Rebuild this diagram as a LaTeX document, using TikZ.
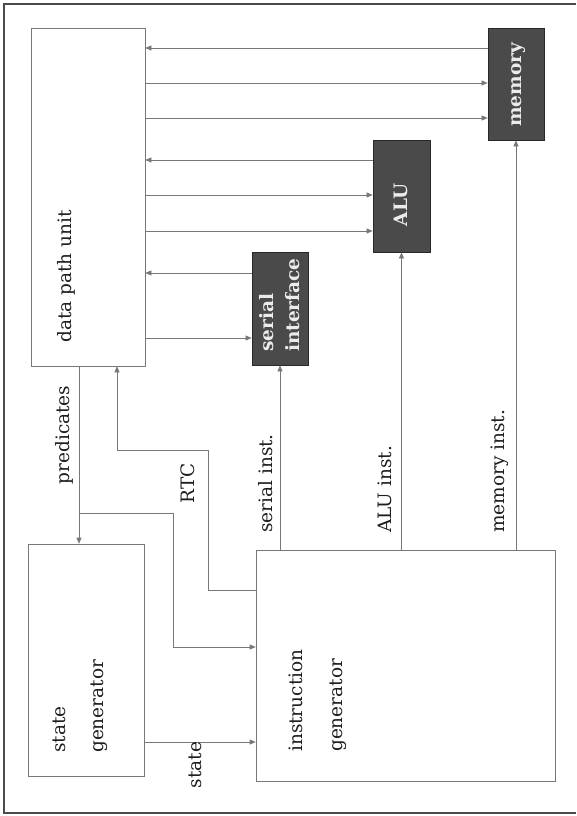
\documentclass[tikz,border=0pt]{standalone}
\usepackage{fontspec}
\setmainfont{DejaVu Serif}
\usetikzlibrary{arrows.meta}
\definecolor{ink}{RGB}{30,30,30}
\definecolor{wire}{RGB}{120,120,120}
\definecolor{darkfill}{RGB}{74,74,74}
\definecolor{darkedge}{RGB}{40,40,40}
\tikzset{
  wbox/.style={draw=wire, line width=0.6pt, fill=white, inner sep=0pt},
  dbox/.style={draw=darkedge, line width=0.8pt, fill=darkfill, inner sep=0pt},
  arr/.style={draw=wire, line width=0.6pt, -{Triangle[length=6pt,width=5pt]}},
  wire/.style={draw=wire, line width=0.6pt},
  txt/.style={text=ink, inner sep=0pt, rotate=90, font=\fontsize{18.5}{22}\selectfont},
  btxt/.style={text=white!92!black, inner sep=0pt, rotate=90, font=\fontsize{18.5}{22}\selectfont\bfseries}
}
\begin{document}
\begin{tikzpicture}[x=1pt,y=-1pt]
\useasboundingbox (0,0) rectangle (576,816);
\fill[white] (0,0) rectangle (576,816);
% frame
\draw[line width=1.3pt, draw=ink!80] (576,4) -- (4,4) -- (4,813) -- (576,813);

% boxes
\node[wbox, minimum width=114pt, minimum height=338pt] (dp) at (88,197) {};
\node[dbox, minimum width=56pt, minimum height=112pt] (mem) at (516,84) {};
\node[dbox, minimum width=57pt, minimum height=112pt] (alu) at (401.5,196) {};
\node[dbox, minimum width=56pt, minimum height=113pt] (ser) at (280,308.5) {};
\node[wbox, minimum width=116pt, minimum height=232pt] (sg) at (86,660) {};
\node[wbox, minimum width=299pt, minimum height=231pt] (ig) at (405.5,665.5) {};

% box texts
\node[txt, anchor=west] (dpt) at (66,343) {data path unit};
\node[btxt] (memt) at (519,85) {memory};
\node[btxt] (alut) at (401,205) {ALU};
\node[btxt, anchor=west, align=left, font=\fontsize{18.5}{26}\selectfont\bfseries] (sert) at (280,352) {serial\\interface};
\node[txt, anchor=west, align=left, font=\fontsize{18.5}{38}\selectfont] (sgt) at (80,753) {state\\generator};
\node[txt, anchor=west, align=left, font=\fontsize{18.5}{40}\selectfont] (igt) at (318,752) {instruction\\generator};

% helper coordinates
\coordinate (h1) at (0,48);
\coordinate (h2) at (0,83);
\coordinate (h3) at (0,118);
\coordinate (h4) at (0,160);
\coordinate (h5) at (0,195);
\coordinate (h6) at (0,231);
\coordinate (h7) at (0,273);
\coordinate (h8) at (0,338);
\coordinate (px) at (79,0);
\coordinate (pb) at (79,513);
\coordinate (c1) at (173,647);
\coordinate (r1) at (208,590);
\coordinate (r2) at (117,450);
\coordinate (s1) at (0,742);

% data path <-> units
\draw[arr] (mem.west |- h1) -- (dp.east |- h1);
\draw[arr] (dp.east |- h2) -- (mem.west |- h2);
\draw[arr] (dp.east |- h3) -- (mem.west |- h3);
\draw[arr] (alu.west |- h4) -- (dp.east |- h4);
\draw[arr] (dp.east |- h5) -- (alu.west |- h5);
\draw[arr] (dp.east |- h6) -- (alu.west |- h6);
\draw[arr] (ser.west |- h7) -- (dp.east |- h7);
\draw[arr] (dp.east |- h8) -- (ser.west |- h8);

% instruction lines
\draw[arr] (ig.north -| ser.south) -- (ser.south);
\draw[arr] (ig.north -| alu.south) -- (alu.south);
\draw[arr] (ig.north -| mem.south) -- (mem.south);

% predicates
\draw[arr] (dp.south -| px) -- (sg.north -| px);
\draw[arr] (pb) -| (c1) -- (c1 -| ig.west);

% RTC
\draw[arr] (ig.west |- r1) -- (r1) |- (r2) -- (r2 |- dp.south);

% state
\draw[arr] (sg.east |- s1) -- (ig.west |- s1);

% labels
\node[txt] (lpred) at (64,435) {predicates};
\node[txt] (lrtc) at (188,483) {RTC};
\node[txt, anchor=west] (lser) at (266,533) {serial inst.};
\node[txt, anchor=west] (lalu) at (385,533) {ALU inst.};
\node[txt, anchor=west] (lmem) at (500,533) {memory inst.};
\node[txt] (lstate) at (195,765) {state};
\end{tikzpicture}
\end{document}
